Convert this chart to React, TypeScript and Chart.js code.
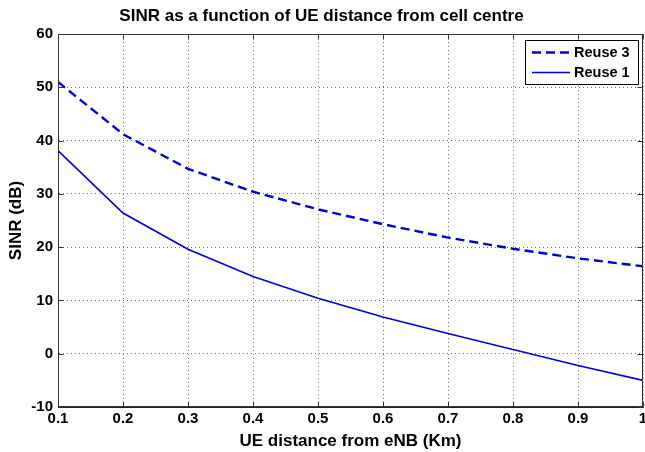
import React, { useEffect, useRef } from "react";
import { Chart, registerables } from "chart.js";

Chart.register(...registerables);

const titleText = "SINR as a function of UE distance from cell centre";
const xTitle = "UE distance from eNB (Km)";
const yTitle = "SINR (dB)";

const distances = [0.1, 0.2, 0.3, 0.4, 0.5, 0.6, 0.7, 0.8, 0.9, 1.0];
const reuse3 = [51.0, 41.2, 34.7, 30.4, 27.1, 24.3, 21.8, 19.7, 17.9, 16.4];
const reuse1 = [38.1, 26.4, 19.6, 14.5, 10.4, 6.9, 3.8, 0.8, -2.2, -5.0];

const xTicks = [0.1, 0.2, 0.3, 0.4, 0.5, 0.6, 0.7, 0.8, 0.9, 1];
const xTickLabels = ["0.1", "0.2", "0.3", "0.4", "0.5", "0.6", "0.7", "0.8", "0.9", "1"];
const yTicks = [-10, 0, 10, 20, 30, 40, 50, 60];
const yTickLabels = ["-10", "0", "10", "20", "30", "40", "50", "60"];

const seriesLabels = ["Reuse 3", "Reuse 1"];

const FONT = "'Liberation Sans', Arial, Helvetica, sans-serif";
const BLUE = "#0000d8";

const framePlugin = {
  id: "frame",
  afterDraw(chart: any) {
    const { ctx, chartArea: a, scales } = chart;
    const L = Math.round(a.left) + 0.5;
    const R = Math.round(a.right) - 0.5;
    const T = Math.round(a.top) + 0.5;
    const B = Math.round(a.bottom) - 0.5;
    ctx.save();
    ctx.strokeStyle = "#333";
    ctx.lineWidth = 1;
    ctx.setLineDash([]);
    ctx.strokeRect(L, T, R - L, B - T);
    // inward ticks
    const tl = 5;
    ctx.beginPath();
    for (const v of xTicks) {
      const px = Math.round(scales.x.getPixelForValue(v)) + 0.5;
      ctx.moveTo(px, B);
      ctx.lineTo(px, B - tl);
      ctx.moveTo(px, T);
      ctx.lineTo(px, T + tl);
    }
    for (const v of yTicks) {
      const py = Math.round(scales.y.getPixelForValue(v)) + 0.5;
      ctx.moveTo(L, py);
      ctx.lineTo(L + tl, py);
      ctx.moveTo(R, py);
      ctx.lineTo(R - tl, py);
    }
    ctx.stroke();

    // legend box
    const bx = 525.5, by = 40.5, bw = 113, bh = 44;
    ctx.fillStyle = "#fff";
    ctx.fillRect(bx, by, bw, bh);
    ctx.strokeStyle = "#000";
    ctx.strokeRect(bx, by, bw, bh);
    const rows = [52.5, 72.5];
    chart.data.datasets.forEach((ds: any, i: number) => {
      ctx.beginPath();
      ctx.strokeStyle = ds.borderColor;
      ctx.lineWidth = ds.borderWidth;
      ctx.setLineDash(ds.borderDash || []);
      ctx.moveTo(532, rows[i]);
      ctx.lineTo(570, rows[i]);
      ctx.stroke();
      ctx.setLineDash([]);
      ctx.fillStyle = "#000";
      ctx.font = `bold 14.5px ${FONT}`;
      ctx.textBaseline = "middle";
      ctx.textAlign = "left";
      ctx.fillText(ds.label, 574, rows[i]);
    });
    ctx.restore();
  },
};

export default function App() {
  const ref = useRef<HTMLCanvasElement | null>(null);
  useEffect(() => {
    if (!ref.current) return;
    const chart = new Chart(ref.current, {
      type: "line",
      data: {
        datasets: [
          {
            label: seriesLabels[0],
            data: distances.map((d, i) => ({ x: d, y: reuse3[i] })),
            borderColor: BLUE,
            borderWidth: 2.4,
            borderDash: [9, 5],
            pointRadius: 0,
            tension: 0,
            fill: false,
          },
          {
            label: seriesLabels[1],
            data: distances.map((d, i) => ({ x: d, y: reuse1[i] })),
            borderColor: BLUE,
            borderWidth: 1.6,
            pointRadius: 0,
            tension: 0,
            fill: false,
          },
        ],
      },
      options: {
        animation: false,
        responsive: false,
        maintainAspectRatio: false,
        devicePixelRatio: 1,
        layout: { padding: { left: 0, right: 2, top: 0, bottom: 0 } },
        plugins: {
          legend: { display: false },
          tooltip: { enabled: false },
          title: {
            display: true,
            text: titleText,
            color: "#000",
            font: { family: FONT, size: 17, weight: "bold" },
            padding: { top: 6, bottom: 7.6 },
          },
        },
        scales: {
          x: {
            type: "linear",
            min: 0.1,
            max: 1,
            afterBuildTicks: (s: any) => {
              s.ticks = xTicks.map((v) => ({ value: v }));
            },
            afterFit: (s: any) => {
              s.height = 45;
              s.paddingLeft = 0;
              s.paddingRight = 0;
            },
            ticks: {
              color: "#000",
              font: { family: FONT, size: 15, weight: "bold" },
              padding: 3,
              maxRotation: 0,
              autoSkip: false,
              callback: (v: any) => {
                const i = xTicks.findIndex((t) => Math.abs(t - v) < 1e-9);
                return i >= 0 ? xTickLabels[i] : "";
              },
            },
            grid: { color: "rgba(0,0,0,0.55)", drawTicks: false, lineWidth: 1 },
            border: { display: true, color: "#222", dash: [1, 3] },
            title: {
              display: true,
              text: xTitle,
              color: "#000",
              font: { family: FONT, size: 17, weight: "bold" },
              padding: { top: 0, bottom: 0 },
            },
          },
          y: {
            type: "linear",
            min: -10,
            max: 60,
            afterBuildTicks: (s: any) => {
              s.ticks = yTicks.map((v) => ({ value: v }));
            },
            afterFit: (s: any) => {
              s.width = 58;
              s.paddingTop = 0;
              s.paddingBottom = 0;
            },
            ticks: {
              color: "#000",
              font: { family: FONT, size: 15, weight: "bold" },
              padding: 5,
              autoSkip: false,
              callback: (v: any) => {
                const i = yTicks.findIndex((t) => Math.abs(t - v) < 1e-9);
                return i >= 0 ? yTickLabels[i] : "";
              },
            },
            grid: { color: "rgba(0,0,0,0.55)", drawTicks: false, lineWidth: 1 },
            border: { display: true, color: "#222", dash: [1, 3] },
            title: {
              display: true,
              text: yTitle,
              color: "#000",
              font: { family: FONT, size: 17, weight: "bold" },
              padding: { top: 6, bottom: 0 },
            },
          },
        },
      },
      plugins: [framePlugin],
    } as any);
    return () => chart.destroy();
  }, []);
  return (
    <div style={{ position: "fixed", left: 0, top: 0, width: 645, height: 452, background: "#fff" }}>
      <canvas ref={ref} width={645} height={452} style={{ display: "block", width: 645, height: 452 }} />
    </div>
  );
}
